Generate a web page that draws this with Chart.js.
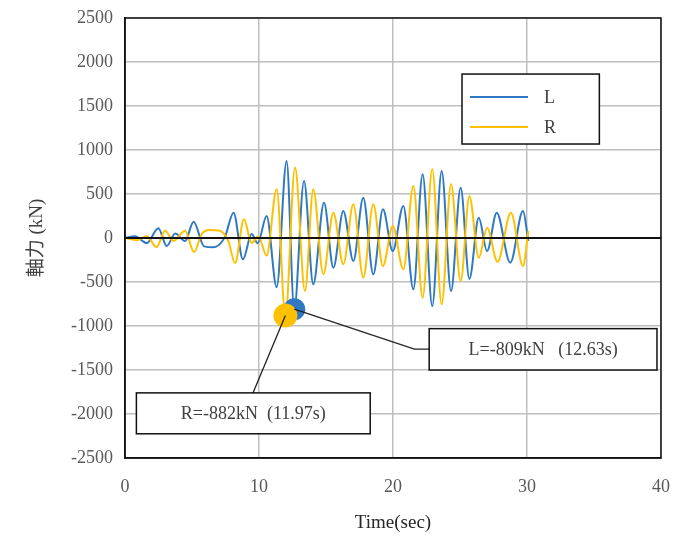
<!DOCTYPE html>
<html lang="ja">
<head>
<meta charset="UTF-8">
<title>軸力</title>
<script src="https://cdn.jsdelivr.net/npm/chart.js"></script>
<style>
  html, body { margin: 0; padding: 0; background: #fff; }
  #wrap { width: 679px; height: 542px; }
</style>
</head>
<body>
<div id="wrap"><canvas id="grafico" width="679" height="542"></canvas></div>
<script>
// series L (blue): time (s) and axial force (kN) at the turning points
const tL = [0, 0.75, 1.62, 2.49, 3.11, 3.75, 4.48, 5.12, 5.9, 6.6, 7.45, 8.1, 8.8, 9.45, 9.9, 10.57, 11.32, 12.06, 12.63, 13.36, 14.05, 14.85, 15.55, 16.29, 17.04, 17.78, 18.53, 19.25, 19.98, 20.77, 21.52, 22.21, 22.93, 23.63, 24.33, 25.05, 25.7, 26.4, 27.02, 27.74, 28.75, 29.7, 30.1];
const vL = [0, 20, -57, 110, -91, 50, -34, 185, -95, -105, 10, 288, -242, 45, -60, 250, -560, 875, -809, 648, -526, 401, -337, 307, -261, 458, -412, 326, -148, 364, -583, 724, -772, 761, -602, 572, -466, 231, -148, 288, -280, 307, -34];

// series R (yellow)
const tR = [0, 0.9, 1.62, 2.36, 2.99, 3.61, 4.48, 5.15, 5.72, 6.3, 7.0, 7.71, 8.21, 8.88, 9.45, 9.95, 10.57, 11.32, 11.97, 12.69, 13.43, 14.05, 14.8, 15.55, 16.29, 17.04, 17.78, 18.53, 19.25, 19.98, 20.77, 21.52, 22.21, 22.93, 23.63, 24.33, 25.05, 25.7, 26.4, 27.02, 27.8, 28.8, 29.7, 30.1];
const vR = [0, -25, 20, -102, 83, -34, 83, -160, 44, 90, 85, -34, -285, 212, -57, 19, -200, 553, -882, 800, -602, 553, -412, 288, -299, 383, -450, 383, -320, 136, -356, 591, -678, 780, -753, 610, -488, 477, -224, 117, -270, 288, -318, 80];

const nomes = ['L', 'R'];
const picoT = [12.63, 11.97];
const picoV = [-809, -882];
const notas = ['L=-809kN   (12.63s)', 'R=-882kN  (11.97s)'];

const corL = '#2e78c4';
const corR = '#ffc000';
const serif = '"Liberation Serif", "Times New Roman", "Noto Sans CJK JP", serif';

function pontos(t, v) {
    return t.map(function (x, i) { return { x: x, y: v[i] }; });
}

// moldura, linha do zero, legenda e notas desenhadas por cima
const extras = {
    id: 'extras',
    afterDatasetsDraw(chart) {
        const ctx = chart.ctx;
        const a = chart.chartArea;
        const xs = chart.scales.x;
        const ys = chart.scales.y;
        const px = v => xs.getPixelForValue(v);
        const py = v => ys.getPixelForValue(v);

        ctx.save();
        // linha do zero
        ctx.strokeStyle = '#111';
        ctx.lineWidth = 2;
        ctx.beginPath();
        ctx.moveTo(a.left, py(0));
        ctx.lineTo(a.right, py(0));
        ctx.stroke();

        // moldura
        ctx.lineWidth = 1.5;
        ctx.strokeRect(a.left, a.top, a.right - a.left, a.bottom - a.top);

        // linhas de chamada
        ctx.strokeStyle = '#222';
        ctx.lineWidth = 1.3;
        ctx.beginPath();
        ctx.moveTo(px(picoT[0]), py(picoV[0]));
        ctx.lineTo(px(21.6), py(-1262));
        ctx.lineTo(px(22.7), py(-1262));
        ctx.stroke();
        ctx.beginPath();
        ctx.moveTo(px(picoT[1]), py(picoV[1]));
        ctx.lineTo(px(9.55), py(-1760));
        ctx.stroke();

        // caixas de texto
        ctx.font = '18px ' + serif;
        ctx.fillStyle = '#404040';
        ctx.textBaseline = 'middle';
        const caixas = [[22.7, 39.7, -1030, -1500], [0.85, 18.3, -1760, -2225]];
        caixas.forEach(function (c, i) {
            const x0 = px(c[0]), x1 = px(c[1]), y0 = py(c[2]), y1 = py(c[3]);
            ctx.fillStyle = '#fff';
            ctx.fillRect(x0, y0, x1 - x0, y1 - y0);
            ctx.strokeStyle = '#111';
            ctx.lineWidth = 1.5;
            ctx.strokeRect(x0, y0, x1 - x0, y1 - y0);
            ctx.fillStyle = '#404040';
            ctx.textAlign = 'center';
            ctx.fillText(notas[i], (x0 + x1) / 2, (y0 + y1) / 2 + 1);
        });

        // legenda
        const lx0 = px(25.15), lx1 = px(35.4), ly0 = py(1863), ly1 = py(1068);
        ctx.fillStyle = '#fff';
        ctx.fillRect(lx0, ly0, lx1 - lx0, ly1 - ly0);
        ctx.strokeStyle = '#111';
        ctx.lineWidth = 1.5;
        ctx.strokeRect(lx0, ly0, lx1 - lx0, ly1 - ly0);
        [corL, corR].forEach(function (cor, i) {
            const y = ly0 + 23 + i * 30;
            ctx.strokeStyle = cor;
            ctx.lineWidth = 2;
            ctx.beginPath();
            ctx.moveTo(lx0 + 8, y);
            ctx.lineTo(lx0 + 66, y);
            ctx.stroke();
            ctx.fillStyle = '#404040';
            ctx.textAlign = 'left';
            ctx.font = '18px ' + serif;
            ctx.fillText(nomes[i], lx0 + 82, y + 1);
        });
        ctx.restore();
    }
};

const config = {
    type: 'scatter',
    data: {
        datasets: [
            { label: 'R*', data: [{ x: picoT[1], y: picoV[1] }], pointRadius: 12, pointBackgroundColor: corR, pointBorderWidth: 0, showLine: false, order: 0 },
            { label: 'L*', data: [{ x: picoT[0], y: picoV[0] }], pointRadius: 11, pointBackgroundColor: corL, pointBorderWidth: 0, showLine: false, order: 1 },
            { label: nomes[1], data: pontos(tR, vR), showLine: true, borderColor: corR, borderWidth: 2, pointRadius: 0, cubicInterpolationMode: 'monotone', order: 2 },
            { label: nomes[0], data: pontos(tL, vL), showLine: true, borderColor: corL, borderWidth: 2, pointRadius: 0, cubicInterpolationMode: 'monotone', order: 3 }
        ]
    },
    options: {
        responsive: false,
        animation: false,
        layout: { padding: { top: 18, right: 18, left: 0, bottom: 0 } },
        plugins: { legend: { display: false }, tooltip: { enabled: false } },
        scales: {
            x: {
                type: 'linear', min: 0, max: 40,
                afterFit: function (s) { s.height = 84; s.paddingLeft = 0; s.paddingRight = 0; },
                ticks: { stepSize: 10, padding: 18, color: '#595959', font: { family: serif, size: 18 } },
                grid: { color: '#bfbfbf', lineWidth: 1.5, drawTicks: false },
                border: { display: true, color: '#111', width: 1.5 },
                title: { display: true, text: 'Time(sec)', color: '#262626', font: { family: serif, size: 19 }, padding: { top: 8, bottom: 8 } }
            },
            y: {
                min: -2500, max: 2500,
                afterFit: function (s) { s.width = 125; s.paddingTop = 0; s.paddingBottom = 0; },
                ticks: { stepSize: 500, padding: 12, color: '#595959', font: { family: serif, size: 18 }, callback: v => String(v) },
                grid: { color: '#bfbfbf', lineWidth: 1.5, drawTicks: false },
                border: { display: true, color: '#111', width: 1.5 },
                title: { display: true, text: '軸力 (kN)', color: '#404040', font: { family: serif, size: 19 }, padding: { top: 26, bottom: 22 } }
            }
        }
    },
    plugins: [extras]
};

let grafico = new Chart(document.getElementById('grafico'), config);
</script>
</body>
</html>
